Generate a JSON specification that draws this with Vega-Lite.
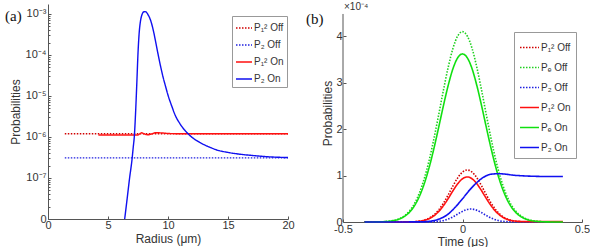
{
"$schema": "https://vega.github.io/schema/vega-lite/v6.json",
"padding": {"left": 5, "top": 2, "right": 0, "bottom": 0},
"spacing": 11,
"config": {
 "view": {"stroke": null},
 "font": "Liberation Sans",
 "axis": {"grid": false, "domainColor": "#555", "tickColor": "#555", "labelColor": "#333", "titleColor": "#333", "labelFontSize": 11, "titleFontSize": 12, "titleFontWeight": "normal", "tickSize": -3, "labelPadding": 3, "titlePadding": 3, "labelFlush": false}
},
"resolve": {"scale": {"color": "independent", "strokeDash": "independent"}},
"hconcat": [
{
 "width": 240, "height": 215,
 "layer": [
  {
   "data": {"values": [
    {"s": "P₁² Off", "r": 1.4, "p": 1.2e-6}, {"s": "P₁² Off", "r": 20, "p": 1.2e-6},
    {"s": "P₂ Off", "r": 1.4, "p": 3.1e-7}, {"s": "P₂ Off", "r": 20, "p": 3.1e-7},
    {"s": "P₁² On", "r": 4.2, "p": 1.12e-6}, {"s": "P₁² On", "r": 7.5, "p": 1.12e-6}, {"s": "P₁² On", "r": 7.65, "p": 1.2e-6}, {"s": "P₁² On", "r": 7.8, "p": 1.27e-6}, {"s": "P₁² On", "r": 8.0, "p": 1.2e-6}, {"s": "P₁² On", "r": 8.3, "p": 1.13e-6}, {"s": "P₁² On", "r": 8.6, "p": 1.18e-6}, {"s": "P₁² On", "r": 9.0, "p": 1.27e-6}, {"s": "P₁² On", "r": 9.4, "p": 1.26e-6}, {"s": "P₁² On", "r": 10, "p": 1.22e-6}, {"s": "P₁² On", "r": 11, "p": 1.2e-6}, {"s": "P₁² On", "r": 20, "p": 1.2e-6},
    {"s": "P₂ On", "r": 6.39, "p": 1.0e-8}, {"s": "P₂ On", "r": 6.6, "p": 3.2e-8}, {"s": "P₂ On", "r": 6.8, "p": 1.0e-7}, {"s": "P₂ On", "r": 7.0, "p": 2.8e-7}, {"s": "P₂ On", "r": 7.1, "p": 5.5e-7}, {"s": "P₂ On", "r": 7.2, "p": 1.1e-6}, {"s": "P₂ On", "r": 7.3, "p": 4e-6}, {"s": "P₂ On", "r": 7.4, "p": 2e-5}, {"s": "P₂ On", "r": 7.5, "p": 1.1e-4}, {"s": "P₂ On", "r": 7.6, "p": 3.5e-4}, {"s": "P₂ On", "r": 7.7, "p": 6.5e-4}, {"s": "P₂ On", "r": 7.8, "p": 9.0e-4}, {"s": "P₂ On", "r": 7.9, "p": 1.07e-3}, {"s": "P₂ On", "r": 8.0, "p": 1.13e-3}, {"s": "P₂ On", "r": 8.1, "p": 1.14e-3}, {"s": "P₂ On", "r": 8.2, "p": 1.1e-3}, {"s": "P₂ On", "r": 8.3, "p": 1.0e-3}, {"s": "P₂ On", "r": 8.45, "p": 8.3e-4}, {"s": "P₂ On", "r": 8.6, "p": 6.3e-4}, {"s": "P₂ On", "r": 8.8, "p": 3.7e-4}, {"s": "P₂ On", "r": 9.0, "p": 1.9e-4}, {"s": "P₂ On", "r": 9.2, "p": 9.5e-5}, {"s": "P₂ On", "r": 9.4, "p": 5.0e-5}, {"s": "P₂ On", "r": 9.6, "p": 2.8e-5}, {"s": "P₂ On", "r": 9.8, "p": 1.7e-5}, {"s": "P₂ On", "r": 10.0, "p": 1.05e-5}, {"s": "P₂ On", "r": 10.3, "p": 5.8e-6}, {"s": "P₂ On", "r": 10.6, "p": 3.4e-6}, {"s": "P₂ On", "r": 11.0, "p": 2.1e-6}, {"s": "P₂ On", "r": 11.5, "p": 1.35e-6}, {"s": "P₂ On", "r": 12.0, "p": 9.8e-7}, {"s": "P₂ On", "r": 12.5, "p": 7.8e-7}, {"s": "P₂ On", "r": 13.0, "p": 6.5e-7}, {"s": "P₂ On", "r": 13.5, "p": 5.6e-7}, {"s": "P₂ On", "r": 14.0, "p": 4.9e-7}, {"s": "P₂ On", "r": 15.0, "p": 4.2e-7}, {"s": "P₂ On", "r": 16.0, "p": 3.8e-7}, {"s": "P₂ On", "r": 17.0, "p": 3.55e-7}, {"s": "P₂ On", "r": 18.0, "p": 3.35e-7}, {"s": "P₂ On", "r": 19.0, "p": 3.22e-7}, {"s": "P₂ On", "r": 20.0, "p": 3.15e-7}
   ]},
   "mark": {"type": "line", "strokeWidth": 1.4, "interpolate": "monotone"},
   "encoding": {
    "x": {"field": "r", "type": "quantitative", "scale": {"domain": [0, 20], "nice": false}, "axis": {"title": "Radius (μm)", "values": [0, 5, 10, 15, 20]}},
    "y": {"field": "p", "type": "quantitative", "scale": {"type": "log", "domain": [1e-8, 1.75e-3], "nice": false}, "axis": {"title": "Probabilities", "labelPadding": 5, "values": [1e-8,2e-8,3e-8,4e-8,5e-8,6e-8,7e-8,8e-8,9e-8,1e-7,2e-7,3e-7,4e-7,5e-7,6e-7,7e-7,8e-7,9e-7,1e-6,2e-6,3e-6,4e-6,5e-6,6e-6,7e-6,8e-6,9e-6,1e-5,2e-5,3e-5,4e-5,5e-5,6e-5,7e-5,8e-5,9e-5,1e-4,2e-4,3e-4,4e-4,5e-4,6e-4,7e-4,8e-4,9e-4,1e-3], "labelExpr": "abs(log(datum.value)/LN10 - round(log(datum.value)/LN10)) > 0.01 ? '' : datum.value < 2e-8 ? '0' : '10' + ['⁻⁷','⁻⁶','⁻⁵','⁻⁴','⁻³'][round(log(datum.value)/LN10)+7]", "tickSize": {"condition": {"test": "abs(log(datum.value)/LN10 - round(log(datum.value)/LN10)) > 0.01", "value": -2}, "value": -3}}},
    "color": {"field": "s", "type": "nominal", "scale": {"domain": ["P₁² Off", "P₂ Off", "P₁² On", "P₂ On"], "range": ["#d00000", "#2020e0", "#ff1010", "#1010f0"]},
      "legend": {"orient": "none", "legendX": 184, "legendY": 12, "title": null, "strokeColor": "#999", "fillColor": "white", "padding": 3, "rowPadding": 3, "symbolType": "stroke", "symbolSize": 256, "symbolStrokeWidth": 1.5, "labelFontSize": 10, "labelColor": "#333", "labelOffset": 1}},
    "strokeDash": {"field": "s", "type": "nominal", "scale": {"domain": ["P₁² Off", "P₂ Off", "P₁² On", "P₂ On"], "range": [[1.5, 1.5], [1.5, 1.5], [1, 0], [1, 0]]},
      "legend": {"orient": "none", "legendX": 184, "legendY": 12, "title": null, "strokeColor": "#999", "fillColor": "white", "padding": 3, "rowPadding": 3, "symbolType": "stroke", "symbolSize": 256, "symbolStrokeWidth": 1.5, "labelFontSize": 10, "labelColor": "#333", "labelOffset": 1}}
   }
  },
  {
   "data": {"values": [{"r": 0, "p": 1.75e-3, "t": "(a)"}]},
   "mark": {"type": "text", "font": "Liberation Serif", "fontSize": 15, "align": "left", "baseline": "top", "dx": -43, "dy": 5, "color": "#111"},
   "encoding": {"x": {"field": "r", "type": "quantitative"}, "y": {"field": "p", "type": "quantitative"}, "text": {"field": "t"}}
  }
 ]
},
{
 "width": 239, "height": 218,
 "layer": [
  {
   "data": {"values": [{"t": -0.5, "v": 0, "v2": 4.48}]},
   "mark": {"type": "rule", "color": "#555", "strokeWidth": 1},
   "encoding": {"x": {"field": "t", "type": "quantitative"}, "y": {"field": "v", "type": "quantitative"}, "y2": {"field": "v2"}}
  },
  {
   "data": {"values": [
    {"s": "P₁² Off", "t": -0.41, "v": 0}, {"s": "P₁² Off", "t": -0.23, "v": 0.002}, {"s": "P₁² Off", "t": -0.2, "v": 0.008}, {"s": "P₁² Off", "t": -0.18, "v": 0.019}, {"s": "P₁² Off", "t": -0.16, "v": 0.041}, {"s": "P₁² Off", "t": -0.14, "v": 0.082}, {"s": "P₁² Off", "t": -0.12, "v": 0.151}, {"s": "P₁² Off", "t": -0.1, "v": 0.258}, {"s": "P₁² Off", "t": -0.08, "v": 0.403}, {"s": "P₁² Off", "t": -0.06, "v": 0.582}, {"s": "P₁² Off", "t": -0.04, "v": 0.776}, {"s": "P₁² Off", "t": -0.02, "v": 0.951}, {"s": "P₁² Off", "t": 0, "v": 1.075}, {"s": "P₁² Off", "t": 0.02, "v": 1.12}, {"s": "P₁² Off", "t": 0.04, "v": 1.075}, {"s": "P₁² Off", "t": 0.06, "v": 0.951}, {"s": "P₁² Off", "t": 0.08, "v": 0.776}, {"s": "P₁² Off", "t": 0.1, "v": 0.582}, {"s": "P₁² Off", "t": 0.12, "v": 0.403}, {"s": "P₁² Off", "t": 0.14, "v": 0.258}, {"s": "P₁² Off", "t": 0.16, "v": 0.151}, {"s": "P₁² Off", "t": 0.18, "v": 0.082}, {"s": "P₁² Off", "t": 0.2, "v": 0.041}, {"s": "P₁² Off", "t": 0.22, "v": 0.019}, {"s": "P₁² Off", "t": 0.24, "v": 0.008}, {"s": "P₁² Off", "t": 0.27, "v": 0.002}, {"s": "P₁² Off", "t": 0.42, "v": 0.0},
    {"s": "Pₑ Off", "t": -0.41, "v": 0}, {"s": "Pₑ Off", "t": -0.36, "v": 0.002}, {"s": "Pₑ Off", "t": -0.33, "v": 0.007}, {"s": "Pₑ Off", "t": -0.3, "v": 0.023}, {"s": "Pₑ Off", "t": -0.28, "v": 0.044}, {"s": "Pₑ Off", "t": -0.26, "v": 0.082}, {"s": "Pₑ Off", "t": -0.24, "v": 0.147}, {"s": "Pₑ Off", "t": -0.22, "v": 0.25}, {"s": "Pₑ Off", "t": -0.2, "v": 0.406}, {"s": "Pₑ Off", "t": -0.18, "v": 0.631}, {"s": "Pₑ Off", "t": -0.16, "v": 0.935}, {"s": "Pₑ Off", "t": -0.14, "v": 1.32}, {"s": "Pₑ Off", "t": -0.12, "v": 1.784}, {"s": "Pₑ Off", "t": -0.1, "v": 2.3}, {"s": "Pₑ Off", "t": -0.08, "v": 2.833}, {"s": "Pₑ Off", "t": -0.06, "v": 3.329}, {"s": "Pₑ Off", "t": -0.04, "v": 3.739}, {"s": "Pₑ Off", "t": -0.02, "v": 4.006}, {"s": "Pₑ Off", "t": 0, "v": 4.1}, {"s": "Pₑ Off", "t": 0.02, "v": 4.006}, {"s": "Pₑ Off", "t": 0.04, "v": 3.739}, {"s": "Pₑ Off", "t": 0.06, "v": 3.329}, {"s": "Pₑ Off", "t": 0.08, "v": 2.833}, {"s": "Pₑ Off", "t": 0.1, "v": 2.3}, {"s": "Pₑ Off", "t": 0.12, "v": 1.784}, {"s": "Pₑ Off", "t": 0.14, "v": 1.32}, {"s": "Pₑ Off", "t": 0.16, "v": 0.935}, {"s": "Pₑ Off", "t": 0.18, "v": 0.631}, {"s": "Pₑ Off", "t": 0.2, "v": 0.406}, {"s": "Pₑ Off", "t": 0.22, "v": 0.25}, {"s": "Pₑ Off", "t": 0.24, "v": 0.147}, {"s": "Pₑ Off", "t": 0.26, "v": 0.082}, {"s": "Pₑ Off", "t": 0.28, "v": 0.044}, {"s": "Pₑ Off", "t": 0.3, "v": 0.023}, {"s": "Pₑ Off", "t": 0.33, "v": 0.007}, {"s": "Pₑ Off", "t": 0.36, "v": 0.002}, {"s": "Pₑ Off", "t": 0.42, "v": 0},
    {"s": "P₂ Off", "t": -0.41, "v": 0}, {"s": "P₂ Off", "t": -0.155, "v": 0.001}, {"s": "P₂ Off", "t": -0.125, "v": 0.004}, {"s": "P₂ Off", "t": -0.105, "v": 0.011}, {"s": "P₂ Off", "t": -0.085, "v": 0.026}, {"s": "P₂ Off", "t": -0.065, "v": 0.054}, {"s": "P₂ Off", "t": -0.045, "v": 0.097}, {"s": "P₂ Off", "t": -0.025, "v": 0.155}, {"s": "P₂ Off", "t": -0.005, "v": 0.215}, {"s": "P₂ Off", "t": 0.015, "v": 0.262}, {"s": "P₂ Off", "t": 0.035, "v": 0.28}, {"s": "P₂ Off", "t": 0.055, "v": 0.262}, {"s": "P₂ Off", "t": 0.075, "v": 0.215}, {"s": "P₂ Off", "t": 0.095, "v": 0.155}, {"s": "P₂ Off", "t": 0.115, "v": 0.097}, {"s": "P₂ Off", "t": 0.135, "v": 0.054}, {"s": "P₂ Off", "t": 0.155, "v": 0.026}, {"s": "P₂ Off", "t": 0.175, "v": 0.011}, {"s": "P₂ Off", "t": 0.195, "v": 0.004}, {"s": "P₂ Off", "t": 0.225, "v": 0.001}, {"s": "P₂ Off", "t": 0.42, "v": 0},
    {"s": "P₁² On", "t": -0.41, "v": 0}, {"s": "P₁² On", "t": -0.23, "v": 0.002}, {"s": "P₁² On", "t": -0.2, "v": 0.007}, {"s": "P₁² On", "t": -0.18, "v": 0.016}, {"s": "P₁² On", "t": -0.16, "v": 0.036}, {"s": "P₁² On", "t": -0.14, "v": 0.071}, {"s": "P₁² On", "t": -0.12, "v": 0.131}, {"s": "P₁² On", "t": -0.1, "v": 0.223}, {"s": "P₁² On", "t": -0.08, "v": 0.349}, {"s": "P₁² On", "t": -0.06, "v": 0.504}, {"s": "P₁² On", "t": -0.04, "v": 0.672}, {"s": "P₁² On", "t": -0.02, "v": 0.824}, {"s": "P₁² On", "t": 0, "v": 0.931}, {"s": "P₁² On", "t": 0.02, "v": 0.97}, {"s": "P₁² On", "t": 0.04, "v": 0.931}, {"s": "P₁² On", "t": 0.06, "v": 0.824}, {"s": "P₁² On", "t": 0.08, "v": 0.672}, {"s": "P₁² On", "t": 0.1, "v": 0.504}, {"s": "P₁² On", "t": 0.12, "v": 0.349}, {"s": "P₁² On", "t": 0.14, "v": 0.223}, {"s": "P₁² On", "t": 0.16, "v": 0.131}, {"s": "P₁² On", "t": 0.18, "v": 0.071}, {"s": "P₁² On", "t": 0.2, "v": 0.036}, {"s": "P₁² On", "t": 0.22, "v": 0.02}, {"s": "P₁² On", "t": 0.25, "v": 0.012}, {"s": "P₁² On", "t": 0.3, "v": 0.01}, {"s": "P₁² On", "t": 0.42, "v": 0.01},
    {"s": "Pₑ On", "t": -0.41, "v": 0}, {"s": "Pₑ On", "t": -0.36, "v": 0.002}, {"s": "Pₑ On", "t": -0.33, "v": 0.007}, {"s": "Pₑ On", "t": -0.3, "v": 0.02}, {"s": "Pₑ On", "t": -0.28, "v": 0.039}, {"s": "Pₑ On", "t": -0.26, "v": 0.073}, {"s": "Pₑ On", "t": -0.24, "v": 0.13}, {"s": "Pₑ On", "t": -0.22, "v": 0.221}, {"s": "Pₑ On", "t": -0.2, "v": 0.358}, {"s": "Pₑ On", "t": -0.18, "v": 0.557}, {"s": "Pₑ On", "t": -0.16, "v": 0.825}, {"s": "Pₑ On", "t": -0.14, "v": 1.166}, {"s": "Pₑ On", "t": -0.12, "v": 1.575}, {"s": "Pₑ On", "t": -0.1, "v": 2.031}, {"s": "Pₑ On", "t": -0.08, "v": 2.501}, {"s": "Pₑ On", "t": -0.06, "v": 2.939}, {"s": "Pₑ On", "t": -0.04, "v": 3.301}, {"s": "Pₑ On", "t": -0.02, "v": 3.537}, {"s": "Pₑ On", "t": 0, "v": 3.62}, {"s": "Pₑ On", "t": 0.02, "v": 3.537}, {"s": "Pₑ On", "t": 0.04, "v": 3.301}, {"s": "Pₑ On", "t": 0.06, "v": 2.939}, {"s": "Pₑ On", "t": 0.08, "v": 2.501}, {"s": "Pₑ On", "t": 0.1, "v": 2.031}, {"s": "Pₑ On", "t": 0.12, "v": 1.575}, {"s": "Pₑ On", "t": 0.14, "v": 1.166}, {"s": "Pₑ On", "t": 0.16, "v": 0.825}, {"s": "Pₑ On", "t": 0.18, "v": 0.557}, {"s": "Pₑ On", "t": 0.2, "v": 0.358}, {"s": "Pₑ On", "t": 0.22, "v": 0.221}, {"s": "Pₑ On", "t": 0.24, "v": 0.13}, {"s": "Pₑ On", "t": 0.26, "v": 0.073}, {"s": "Pₑ On", "t": 0.28, "v": 0.039}, {"s": "Pₑ On", "t": 0.3, "v": 0.02}, {"s": "Pₑ On", "t": 0.33, "v": 0.007}, {"s": "Pₑ On", "t": 0.36, "v": 0.002}, {"s": "Pₑ On", "t": 0.42, "v": 0},
    {"s": "P₂ On", "t": -0.41, "v": 0}, {"s": "P₂ On", "t": -0.2, "v": 0.002}, {"s": "P₂ On", "t": -0.15, "v": 0.01}, {"s": "P₂ On", "t": -0.12, "v": 0.03}, {"s": "P₂ On", "t": -0.09, "v": 0.08}, {"s": "P₂ On", "t": -0.06, "v": 0.17}, {"s": "P₂ On", "t": -0.03, "v": 0.32}, {"s": "P₂ On", "t": 0, "v": 0.5}, {"s": "P₂ On", "t": 0.03, "v": 0.69}, {"s": "P₂ On", "t": 0.06, "v": 0.85}, {"s": "P₂ On", "t": 0.09, "v": 0.97}, {"s": "P₂ On", "t": 0.12, "v": 1.03}, {"s": "P₂ On", "t": 0.15, "v": 1.04}, {"s": "P₂ On", "t": 0.18, "v": 1.03}, {"s": "P₂ On", "t": 0.21, "v": 1.01}, {"s": "P₂ On", "t": 0.25, "v": 0.995}, {"s": "P₂ On", "t": 0.3, "v": 0.985}, {"s": "P₂ On", "t": 0.35, "v": 0.98}, {"s": "P₂ On", "t": 0.42, "v": 0.98}
   ]},
   "mark": {"type": "line", "strokeWidth": 1.6, "interpolate": "monotone"},
   "encoding": {
    "x": {"field": "t", "type": "quantitative", "scale": {"domain": [-0.5, 0.5], "nice": false}, "axis": {"title": "Time (μs)", "values": [-0.5, 0, 0.5], "labelExpr": "datum.value + ''", "labelPadding": 4, "titlePadding": 2}},
    "y": {"field": "v", "type": "quantitative", "scale": {"domain": [0, 4.695], "nice": false}, "axis": {"title": "Probabilities", "values": [0, 1, 2, 3, 4], "labelPadding": 4, "titlePadding": 1, "domain": false}},
    "color": {"field": "s", "type": "nominal", "scale": {"domain": ["P₁² Off", "Pₑ Off", "P₂ Off", "P₁² On", "Pₑ On", "P₂ On"], "range": ["#d00000", "#20d020", "#2020e0", "#ff1010", "#10e010", "#1010f0"]},
      "legend": {"orient": "none", "legendX": 171, "legendY": 28, "title": null, "strokeColor": "#999", "fillColor": "white", "padding": 5, "rowPadding": 4, "symbolType": "stroke", "symbolSize": 360, "symbolStrokeWidth": 1.5, "labelFontSize": 10, "labelColor": "#333", "labelOffset": 1}},
    "strokeDash": {"field": "s", "type": "nominal", "scale": {"domain": ["P₁² Off", "Pₑ Off", "P₂ Off", "P₁² On", "Pₑ On", "P₂ On"], "range": [[1.5, 1.5], [1.5, 1.5], [1.5, 1.5], [1, 0], [1, 0], [1, 0]]},
      "legend": {"orient": "none", "legendX": 171, "legendY": 28, "title": null, "strokeColor": "#999", "fillColor": "white", "padding": 5, "rowPadding": 4, "symbolType": "stroke", "symbolSize": 360, "symbolStrokeWidth": 1.5, "labelFontSize": 10, "labelColor": "#333", "labelOffset": 1}}
   }
  },
  {
   "data": {"values": [{"t": -0.5, "v": 4.695, "lab": "(b)"}]},
   "mark": {"type": "text", "font": "Liberation Serif", "fontSize": 15, "align": "left", "baseline": "top", "dx": -37, "dy": 8, "color": "#111"},
   "encoding": {"x": {"field": "t", "type": "quantitative"}, "y": {"field": "v", "type": "quantitative"}, "text": {"field": "lab"}}
  },
  {
   "data": {"values": [{"t": -0.5, "v": 4.695, "lab": "×10⁻⁴"}]},
   "mark": {"type": "text", "fontSize": 10, "align": "left", "baseline": "middle", "dx": 1, "dy": 3, "color": "#333"},
   "encoding": {"x": {"field": "t", "type": "quantitative"}, "y": {"field": "v", "type": "quantitative"}, "text": {"field": "lab"}}
  }
 ]
}
]
}
